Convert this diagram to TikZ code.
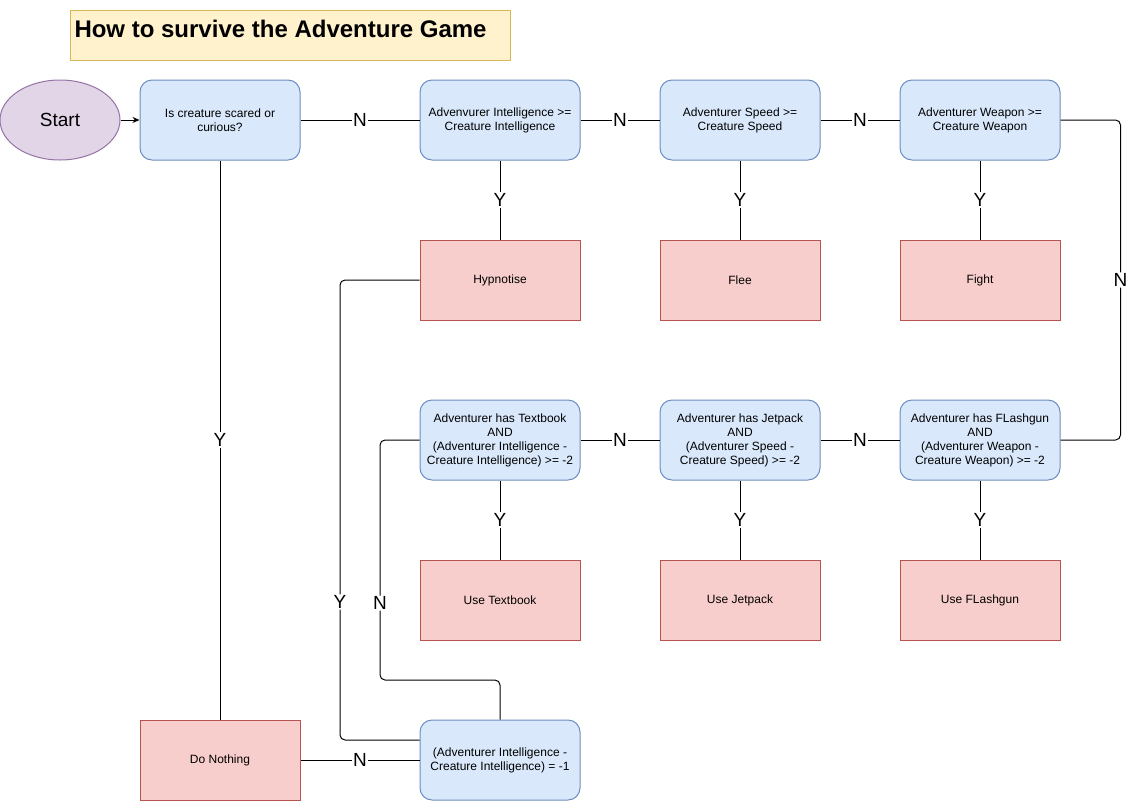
\documentclass[tikz,border=0pt]{standalone}
\usepackage{fontspec}
\setmainfont{Liberation Sans}
\usetikzlibrary{shapes.geometric,arrows.meta}

\definecolor{qfill}{HTML}{DAE8FC}
\definecolor{qline}{HTML}{6C8EBF}
\definecolor{afill}{HTML}{F8CECC}
\definecolor{aline}{HTML}{B85450}
\definecolor{sfill}{HTML}{E1D5E7}
\definecolor{sline}{HTML}{9673A6}
\definecolor{tfill}{HTML}{FFF2CC}
\definecolor{tline}{HTML}{D6B656}

\def\boxfont{\fontsize{12}{14}\selectfont}
\tikzstyle{question}=[rectangle,rounded corners=12pt,draw=qline,fill=qfill,minimum width=160pt,minimum height=80pt,align=center,font=\boxfont]
\tikzstyle{action}=[rectangle,draw=aline,fill=afill,minimum width=160pt,minimum height=80pt,align=center,font=\boxfont]
\tikzstyle{answer}=[fill=white,inner sep=1pt,font=\fontsize{19}{19}\selectfont]
\tikzstyle{link}=[rounded corners=5pt]

\begin{document}
\begin{tikzpicture}[x=1pt,y=-1pt,line width=1pt]
       \useasboundingbox (0,0) rectangle (1128,801);
       % title
       \draw[draw=tline,fill=tfill] (70,10) rectangle (510,60);
       \node[anchor=west,inner sep=0pt,font=\fontsize{24}{24}\selectfont\bfseries] (title) at (74,29) {How to survive the Adventure Game};

       \node[ellipse,draw=sline,fill=sfill,minimum width=120pt,minimum height=80pt,inner sep=0pt,font=\fontsize{19}{19}\selectfont] (start) at (60,120) {Start};

       \foreach \pos/\name/\txt in {{(220,120)/q1/{Is creature scared or\\curious?}}, {(500,120)/q2/{Advenvurer Intelligence >=\\Creature Intelligence}}, {(740,120)/q3/{Adventurer Speed >=\\Creature Speed}}, {(980,120)/q4/{Adventurer Weapon >=\\Creature Weapon}}, {(500,440)/book/{Adventurer has Textbook\\AND\\(Adventurer Intelligence -\\Creature Intelligence) >= -2}}, {(740,440)/jet/{Adventurer has Jetpack\\AND\\(Adventurer Speed -\\Creature Speed) >= -2}}, {(980,440)/gun/{Adventurer has FLashgun\\AND\\(Adventurer Weapon -\\Creature Weapon) >= -2}}, {(500,760)/last/{(Adventurer Intelligence -\\Creature Intelligence) = -1}}} {
           \node[question] (\name) at \pos {\txt};
       }
       \foreach \pos/\name/\txt in {{(500,280)/hyp/Hypnotise}, {(740,280)/flee/Flee}, {(980,280)/fight/Fight}, {(500,600)/usebook/Use Textbook}, {(740,600)/usejet/Use Jetpack}, {(980,600)/usegun/Use FLashgun}, {(220,760)/nothing/Do Nothing}} {
           \node[action] (\name) at \pos {\txt};
       }

       \draw[-{Stealth[length=7pt,width=6pt]}] (start) -- (q1);
       \foreach \a/\b in {q1/q2, q2/q3, q3/q4, gun/jet, jet/book, last/nothing} {
           \draw (\a) -- node[answer] {N} (\b);
       }
       \foreach \a/\b in {q2/hyp, q3/flee, q4/fight, book/usebook, jet/usejet, gun/usegun, q1/nothing} {
           \draw (\a) -- node[answer] {Y} (\b);
       }
       \draw[link] (q4.east) -- ++(60,0) |- node[answer,pos=0.25] {N} (gun.east);
       \draw[link] (book.west) -| node[answer,pos=0.84] {N} (380,680) -| (last.north);
       \draw[link] (hyp.west) -| node[answer,pos=0.85] {Y} (340,740) -- ([yshift=20pt]last.west);

\end{tikzpicture}
\end{document}
